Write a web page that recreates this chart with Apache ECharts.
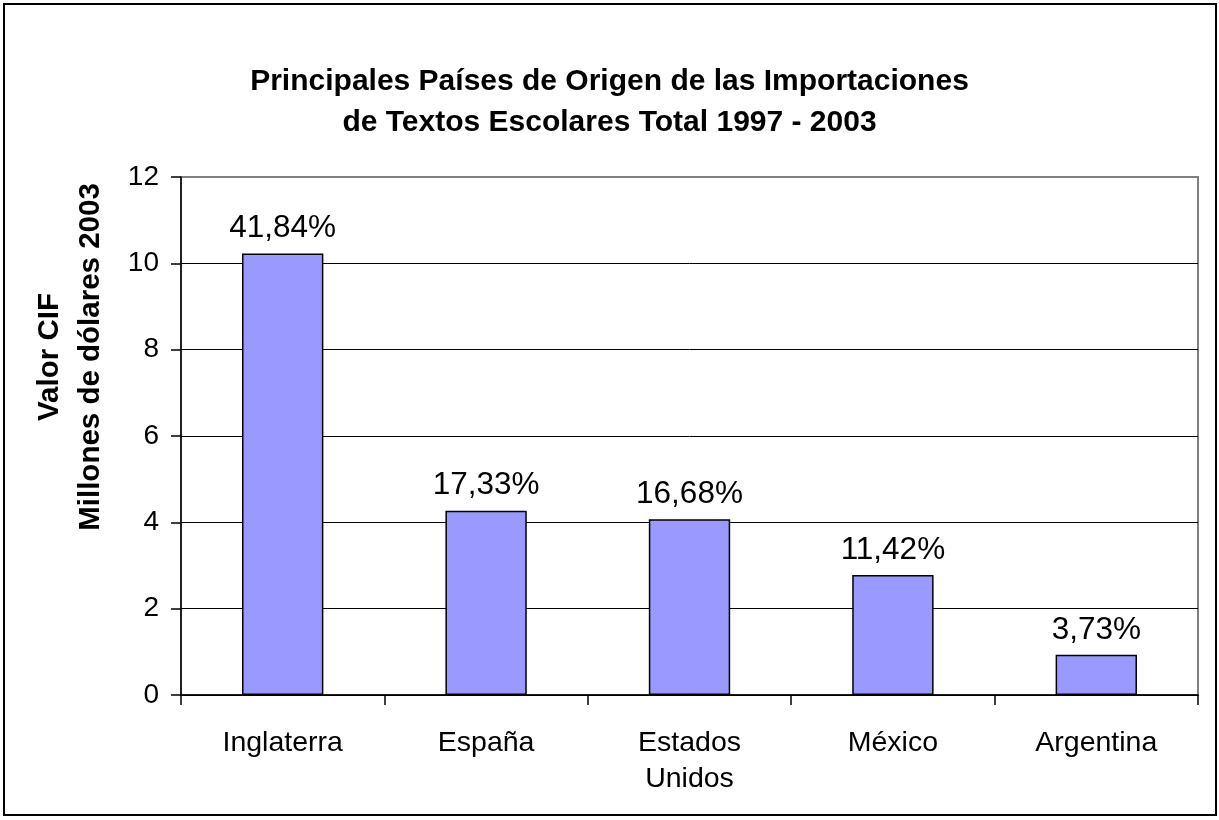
<!DOCTYPE html>
<html>
<head>
<meta charset="utf-8">
<script src="https://cdn.jsdelivr.net/npm/echarts@6/dist/echarts.min.js"></script>
<style>
html, body { margin: 0; padding: 0; background: #fff; }
#chart { width: 1219px; height: 820px; }
</style>
</head>
<body>
<div id="chart"></div>
<script>
// data
const categories = ['Inglaterra', 'España', 'Estados\nUnidos', 'México', 'Argentina'];
const values = [10.23, 4.27, 4.07, 2.78, 0.93];
const shares = ['41,84%', '17,33%', '16,68%', '11,42%', '3,73%'];
const yTicks = [0, 2, 4, 6, 8, 10, 12];

const font = 'Liberation Sans, Arial, sans-serif';
const chart = echarts.init(document.getElementById('chart'));

const option = {
  animation: false,
  backgroundColor: '#fff',
  title: {
    text: 'Principales Países de Origen de las Importaciones\nde Textos Escolares Total 1997 - 2003',
    left: 'center',
    top: 56,
    textStyle: {
      fontFamily: font,
      fontWeight: 'bold',
      fontSize: 30,
      lineHeight: 41,
      color: '#000'
    }
  },
  graphic: [
    {
      type: 'rect',
      shape: { x: 4, y: 4, width: 1212, height: 811 },
      style: { fill: null, stroke: '#000', lineWidth: 2 },
      silent: true
    },
    {
      type: 'text',
      x: 70,
      y: 357,
      rotation: Math.PI / 2,
      style: {
        text: 'Valor CIF\nMillones de dólares 2003',
        fontFamily: font,
        fontWeight: 'bold',
        fontSize: 29.5,
        lineHeight: 41,
        fill: '#000',
        align: 'center',
        verticalAlign: 'middle'
      }
    }
  ],
  grid: {
    left: 181,
    right: 21,
    top: 177,
    bottom: 125,
    show: true,
    borderColor: '#808080',
    borderWidth: 2
  },
  xAxis: {
    type: 'category',
    data: categories,
    axisLine: { lineStyle: { color: '#000', width: 1.5 } },
    axisTick: { show: true, length: 10, alignWithLabel: false, lineStyle: { color: '#000', width: 1.5 } },
    axisLabel: {
      margin: 30,
      fontFamily: font,
      fontSize: 28.5,
      lineHeight: 36,
      color: '#000',
      interval: 0
    }
  },
  yAxis: {
    type: 'value',
    min: yTicks[0],
    max: yTicks[yTicks.length - 1],
    interval: 2,
    axisLine: { show: true, lineStyle: { color: '#000', width: 1.5 } },
    axisTick: { show: true, length: 10, lineStyle: { color: '#000', width: 1.5 } },
    axisLabel: {
      margin: 22,
      fontFamily: font,
      fontSize: 28,
      color: '#000'
    },
    splitLine: {
      show: true,
      lineStyle: { color: ['#000', '#000', '#000', '#000', '#000', '#000', '#808080'], width: 1 }
    }
  },
  series: [
    {
      type: 'bar',
      data: values,
      barWidth: '40%',
      itemStyle: {
        color: '#9999FF',
        borderColor: '#000',
        borderWidth: 1.5
      },
      label: {
        show: true,
        position: 'top',
        distance: 9,
        fontFamily: font,
        fontSize: 31.5,
        color: '#000',
        formatter: p => shares[p.dataIndex]
      }
    }
  ]
};

chart.setOption(option);
</script>
</body>
</html>
